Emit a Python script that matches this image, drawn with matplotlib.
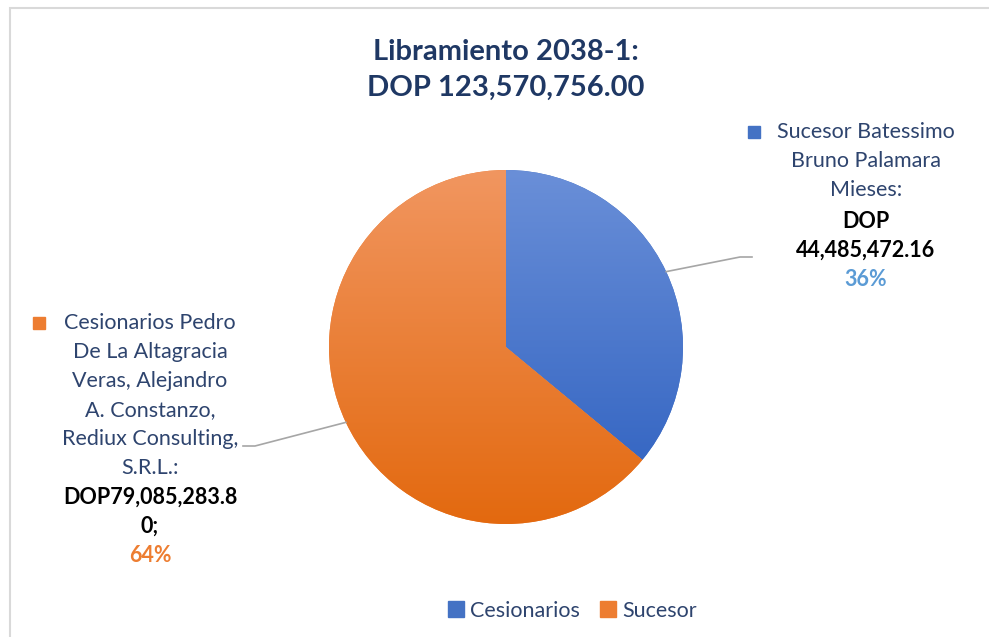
import numpy as np
import matplotlib
matplotlib.use("Agg")
from matplotlib import pyplot as plt
from matplotlib.patches import Rectangle
from matplotlib.lines import Line2D
from matplotlib.colors import LinearSegmentedColormap

plt.rcParams['font.family'] = ['Lato', 'DejaVu Sans']

# data
title = "Libramiento 2038-1:\nDOP 123,570,756.00"
values = [44485472.16, 79085283.80]
pct_labels = ["36%", "64%"]
names = ["Sucesor Batessimo\nBruno Palamara\nMieses:",
         "Cesionarios Pedro\nDe La Altagracia\nVeras, Alejandro\nA. Constanzo,\nRediux Consulting,\nS.R.L.:"]
amounts = ["DOP\n44,485,472.16", "DOP79,085,283.8\n0;"]
legend_names = ["Cesionarios", "Sucesor"]

top_cols = ["#6a8fd8", "#f19660"]
bot_cols = ["#2c5fbf", "#e3690f"]
base_cols = ["#4472c4", "#ed7d31"]
pct_cols = ["#5b9bd5", "#ed7d31"]
txt_col = "#2e446e"

W, H = 989, 637
fig = plt.figure(figsize=(W / 100, H / 100), dpi=100)
ax = fig.add_axes([0, 0, 1, 1])

cx, cy, r = 506, H - 347, 177
wedges, _ = ax.pie(values, colors=base_cols, startangle=90, counterclock=False,
                   center=(cx, cy), radius=r, frame=True)

# vertical gradient fill clipped to each wedge
for w, c1, c2 in zip(wedges, top_cols, bot_cols):
    cmap = LinearSegmentedColormap.from_list("g", [c2, c1])
    grad = np.linspace(0, 1, 256).reshape(-1, 1)
    im = ax.imshow(grad, cmap=cmap, extent=(cx - r, cx + r, cy - r, cy + r),
                   origin='lower', aspect='auto', zorder=2)
    im.set_clip_path(w)

ax.set_xlim(0, W)
ax.set_ylim(0, H)
ax.set_aspect('equal')
ax.axis('off')

# frame
ax.add_patch(Rectangle((10, -10), W + 20, H - 8 + 10, fill=False, ec="#d9d9d9", lw=1.5))

# title
ax.text(506, H - 70, title, ha='center', va='center', fontsize=21, fontweight='bold',
        color="#1f3864", linespacing=1.5)

# leader lines from mid angle of each wedge
mids = [(w.theta1 + w.theta2) / 2 for w in wedges]
p0 = (cx + r * np.cos(np.radians(mids[0])), cy + r * np.sin(np.radians(mids[0])))
ax.plot([p0[0], 740, 752], [p0[1], H - 257, H - 257], color="#a6a6a6", lw=1.2)
p1 = (cx + r * np.cos(np.radians(mids[1])), cy + r * np.sin(np.radians(mids[1])))
ax.plot([p1[0], 255, 243], [p1[1], H - 446, H - 446], color="#a6a6a6", lw=1.2)

fs = 15.5
step = 29

# right label
ax.add_patch(Rectangle((748, H - 138), 12, 12, color=base_cols[0]))
for i, line in enumerate(names[0].split("\n")):
    ax.text(866, H - 132 - step * i, line, ha='center', va='center', fontsize=fs, color=txt_col)
for i, line in enumerate(amounts[0].split("\n")):
    ax.text(866, H - 221 - step * i, line, ha='center', va='center', fontsize=fs,
            fontweight='bold', color="black")
ax.text(866, H - 279, pct_labels[0], ha='center', va='center', fontsize=fs,
        fontweight='bold', color=pct_cols[0])

# left label
ax.add_patch(Rectangle((33, H - 329), 12, 12, color=base_cols[1]))
for i, line in enumerate(names[1].split("\n")):
    ax.text(150, H - 323 - step * i, line, ha='center', va='center', fontsize=fs, color=txt_col)
for i, line in enumerate(amounts[1].split("\n")):
    ax.text(150, H - 497 - step * i, line, ha='center', va='center', fontsize=fs,
            fontweight='bold', color="black")
ax.text(150, H - 555, pct_labels[1], ha='center', va='center', fontsize=fs,
        fontweight='bold', color=pct_cols[1])

# legend
handles = [Line2D([], [], marker='s', ls='', ms=11, color=c) for c in base_cols]
fig.legend(handles, legend_names, loc='center', bbox_to_anchor=(570 / W, 1 - 611 / H),
           ncol=2, frameon=False, fontsize=15.5, handletextpad=0.05, handlelength=1.2,
           columnspacing=0.7, labelcolor=txt_col)

fig.savefig("out.png", dpi=100)
